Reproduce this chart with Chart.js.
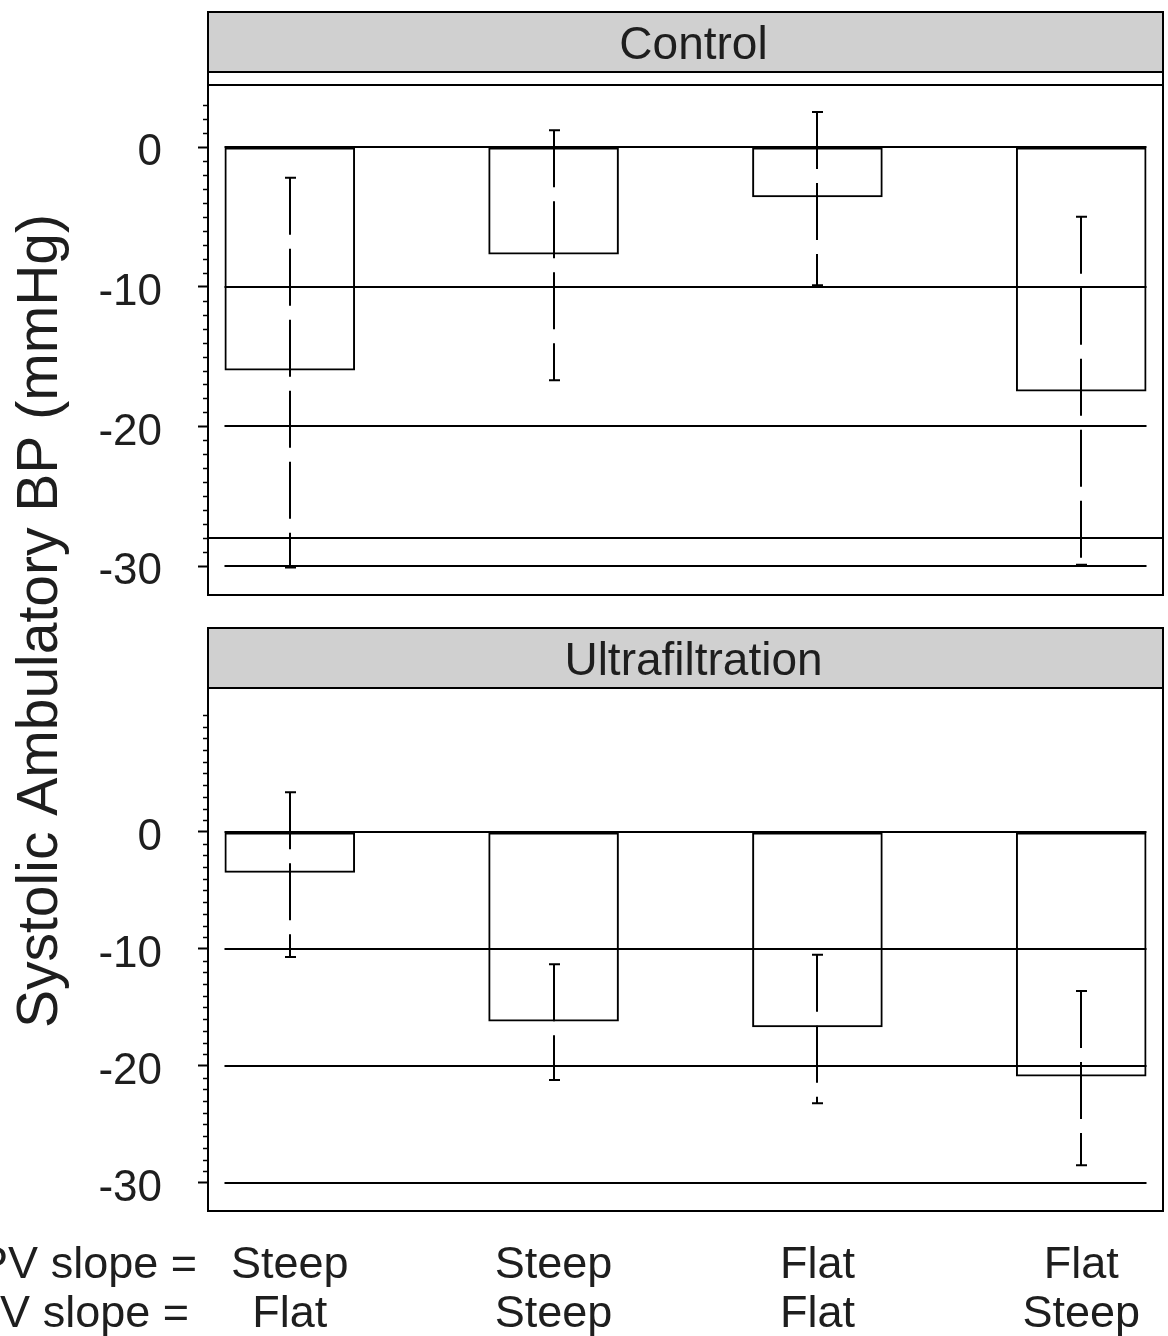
<!DOCTYPE html>
<html>
<head>
<meta charset="utf-8">
<title>Systolic Ambulatory BP</title>
<script src="https://cdn.jsdelivr.net/npm/chart.js@4.4.1/dist/chart.umd.min.js"></script>
<style>
  body { margin: 0; background: #fff; }
  #wrap { position: relative; width: 1168px; height: 1336px; }
  canvas { position: absolute; left: 0; top: 0; }
</style>
</head>
<body>
<div id="wrap">
  <canvas id="topChart" width="1168" height="1336"></canvas>
  <canvas id="bottomChart" width="1168" height="1336"></canvas>
</div>
<script>
// groups, two slope rows under the bottom panel
var pvSlope = ['Steep', 'Steep', 'Flat', 'Flat'];
var svSlope = ['Flat', 'Steep', 'Flat', 'Steep'];
var rowLabels = ['PV slope =', 'PV slope ='];

// Control panel (mean, upper and lower end of the error bar)
var controlMean = [-16.0, -7.7, -3.6, -17.5];
var controlHigh = [-2.2, 1.2, 2.5, -5.0];
var controlLow = [-30.1, -16.7, -9.9, -29.9];

// Ultrafiltration panel
var ufMean = [-3.5, -16.2, -16.7, -20.9];
var ufHigh = [3.4, -11.3, -10.5, -13.6];
var ufLow = [-10.7, -21.2, -23.2, -28.5];

var yTickLabels = [0, -10, -20, -30];
var refLines = [0, -10, -20, -30];
var controlFullLines = [-28];

var FONT = "'Liberation Sans', Arial, sans-serif";
var INK = '#1e1e1e';

function points(vals) {
    return vals.map(function (v, i) { return { x: i + 1, y: v }; });
}

function intRange(top, bottom) {
    var out = [];
    for (var v = top; v >= bottom; v--) out.push({ value: v });
    return out;
}

var panelPlugin = {
    id: 'panel',
    beforeDatasetsDraw: function (chart, args, opts) {
        var ctx = chart.ctx, a = chart.chartArea, y = chart.scales.y;
        var bars = chart.getDatasetMeta(0).data;
        var first = bars[0].getProps(['x', 'width'], true);
        var last = bars[bars.length - 1].getProps(['x', 'width'], true);
        ctx.save();
        ctx.strokeStyle = '#000';
        ctx.lineWidth = 2;
        refLines.forEach(function (v) {
            var py = Math.round(y.getPixelForValue(v));
            ctx.beginPath();
            ctx.moveTo(first.x - first.width / 2, py);
            ctx.lineTo(last.x + last.width / 2, py);
            ctx.stroke();
        });
        (opts.fullLines || []).forEach(function (v) {
            var py = Math.round(y.getPixelForValue(v));
            ctx.beginPath();
            ctx.moveTo(a.left, py);
            ctx.lineTo(a.right, py);
            ctx.stroke();
        });
        ctx.restore();
    },
    afterDatasetsDraw: function (chart, args, opts) {
        var ctx = chart.ctx, a = chart.chartArea, y = chart.scales.y;
        var bars = chart.getDatasetMeta(0).data;
        ctx.save();
        ctx.strokeStyle = '#000';
        ctx.lineWidth = 2;
        // error bars, dashed with caps
        bars.forEach(function (el, i) {
            var x = Math.round(el.getProps(['x'], true).x);
            var yh = y.getPixelForValue(opts.high[i]);
            var yl = y.getPixelForValue(opts.low[i]);
            ctx.setLineDash([57, 14]);
            ctx.beginPath();
            ctx.moveTo(x, yh);
            ctx.lineTo(x, yl);
            ctx.stroke();
            ctx.setLineDash([]);
            ctx.beginPath();
            ctx.moveTo(x - 5, yh); ctx.lineTo(x + 6, yh);
            ctx.moveTo(x - 5, yl); ctx.lineTo(x + 6, yl);
            ctx.stroke();
        });
        // strip and frame
        var stripBottom = a.top - opts.stripGap;
        var stripTop = stripBottom - opts.stripHeight;
        ctx.fillStyle = '#d0d0d0';
        ctx.fillRect(a.left, stripTop, a.right - a.left, opts.stripHeight);
        ctx.strokeRect(a.left, stripTop, a.right - a.left, a.bottom - stripTop);
        ctx.beginPath();
        ctx.moveTo(a.left, stripBottom); ctx.lineTo(a.right, stripBottom);
        ctx.moveTo(a.left, a.top); ctx.lineTo(a.right, a.top);
        ctx.stroke();
        ctx.fillStyle = INK;
        ctx.font = '46px ' + FONT;
        ctx.textAlign = 'center';
        ctx.textBaseline = 'alphabetic';
        ctx.fillText(opts.title, (a.left + a.right) / 2 + 8, stripTop + opts.stripHeight / 2 + 17);
        // minor ticks
        ctx.lineWidth = 1.5;
        y.ticks.forEach(function (t) {
            if (yTickLabels.indexOf(t.value) >= 0) return;
            var py = Math.round(y.getPixelForValue(t.value)) + 0.5;
            ctx.beginPath();
            ctx.moveTo(a.left - 5, py);
            ctx.lineTo(a.left, py);
            ctx.stroke();
        });
        ctx.restore();
    },
    afterDraw: function (chart, args, opts) {
        var ctx = chart.ctx;
        ctx.save();
        ctx.fillStyle = INK;
        if (opts.yTitle) {
            ctx.font = '57px ' + FONT;
            ctx.translate(57, 621);
            ctx.rotate(-Math.PI / 2);
            ctx.textAlign = 'center';
            ctx.textBaseline = 'alphabetic';
            ctx.fillText(opts.yTitle, 0, 0);
        }
        if (opts.rowLabels) {
            var x = chart.scales.x;
            var lh = 45 * 1.09;
            ctx.font = '45px ' + FONT;
            ctx.textAlign = 'right';
            ctx.textBaseline = 'middle';
            ctx.fillText(opts.rowLabels[0], 197, x.top + 30 + lh / 2);
            ctx.fillText(opts.rowLabels[1], 189, x.top + 30 + lh * 1.5);
        }
        ctx.restore();
    }
};

function makePanel(canvasId, cfg) {
    return new Chart(document.getElementById(canvasId).getContext('2d'), {
        type: 'bar',
        data: {
            datasets: [{
                data: points(cfg.mean),
                backgroundColor: 'rgba(0,0,0,0)',
                borderColor: '#000',
                borderWidth: 2,
                borderSkipped: false,
                categoryPercentage: 0.5,
                barPercentage: 0.99
            }]
        },
        plugins: [panelPlugin],
        options: {
            responsive: false,
            animation: false,
            layout: { padding: cfg.padding },
            plugins: {
                legend: { display: false },
                tooltip: { enabled: false },
                panel: {
                    title: cfg.title,
                    high: cfg.high,
                    low: cfg.low,
                    fullLines: cfg.fullLines,
                    stripHeight: 60,
                    stripGap: cfg.stripGap,
                    yTitle: cfg.yTitle,
                    rowLabels: cfg.rowLabels
                }
            },
            scales: {
                x: {
                    type: 'linear',
                    display: cfg.showX,
                    offset: false,
                    min: 0.69,
                    max: 4.31,
                    grid: { display: false, drawTicks: false },
                    border: { display: false },
                    afterBuildTicks: function (scale) {
                        scale.ticks = pvSlope.map(function (_, i) { return { value: i + 1 }; });
                    },
                    afterFit: function (scale) {
                        scale.height = cfg.showX ? 125 : 0;
                        scale.paddingLeft = 0;
                        scale.paddingRight = 0;
                    },
                    ticks: {
                        autoSkip: false,
                        maxRotation: 0,
                        padding: 30,
                        color: INK,
                        font: { family: FONT, size: 45, lineHeight: 1.09 },
                        callback: function (v, i) { return [pvSlope[i], svSlope[i]]; }
                    }
                },
                y: {
                    min: cfg.yMin,
                    max: cfg.yMax,
                    afterFit: function (scale) { scale.width = 208; },
                    afterBuildTicks: function (scale) {
                        scale.ticks = intRange(cfg.tickTop, -30);
                    },
                    border: { display: false },
                    grid: {
                        drawOnChartArea: false,
                        drawTicks: true,
                        tickLength: 10,
                        tickWidth: 2,
                        tickColor: function (c) {
                            return c.tick && yTickLabels.indexOf(c.tick.value) >= 0 ? '#000' : 'rgba(0,0,0,0)';
                        }
                    },
                    ticks: {
                        autoSkip: false,
                        padding: 36,
                        labelOffset: 6,
                        color: INK,
                        font: { family: FONT, size: 44 },
                        callback: function (v) {
                            return yTickLabels.indexOf(v) >= 0 ? String(v) : '';
                        }
                    }
                }
            }
        }
    });
}

makePanel('topChart', {
    title: 'Control',
    mean: controlMean, high: controlHigh, low: controlLow,
    fullLines: controlFullLines,
    yMin: -32.07, yMax: 4.44, tickTop: 3,
    padding: { top: 85, bottom: 741, left: 0, right: 5 },
    stripGap: 13,
    showX: false,
    yTitle: 'Systolic Ambulatory BP (mmHg)'
});

makePanel('bottomChart', {
    title: 'Ultrafiltration',
    mean: ufMean, high: ufHigh, low: ufLow,
    fullLines: [],
    yMin: -32.4, yMax: 12.3, tickTop: 10,
    padding: { top: 688, bottom: 0, left: 0, right: 5 },
    stripGap: 0,
    showX: true,
    rowLabels: rowLabels
});
</script>
</body>
</html>
